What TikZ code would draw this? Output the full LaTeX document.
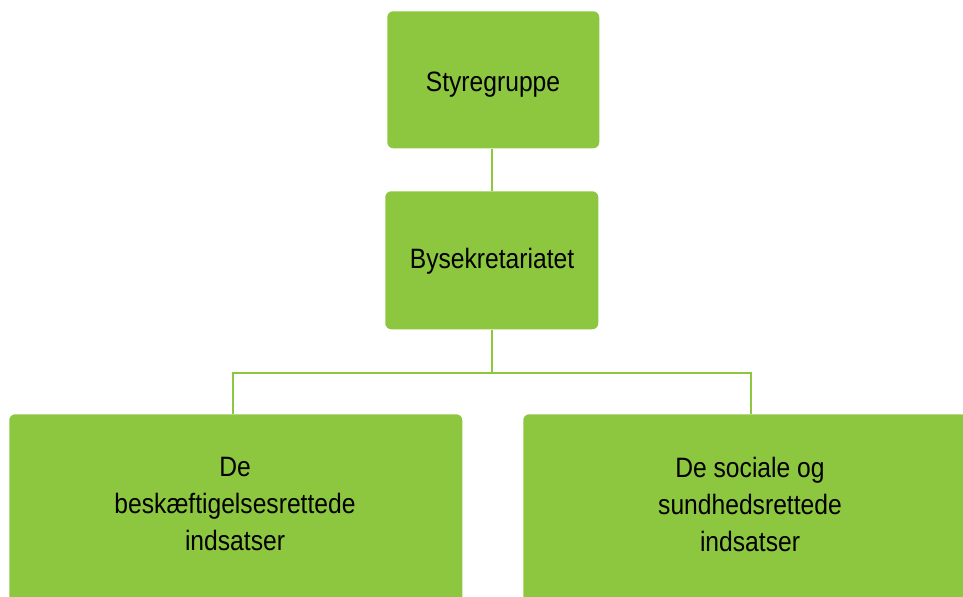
\documentclass[tikz,border=0pt]{standalone}
\usepackage{fontspec}
\setmainfont{Liberation Sans}[FakeStretch=0.88]
\definecolor{boxgreen}{HTML}{8DC63F}
\begin{document}
\begin{tikzpicture}[x=0.75pt,y=-0.75pt,
  box/.style={fill=boxgreen, draw=none, rounded corners=4.5pt, inner sep=0pt},
  txt/.style={align=center, font=\fontsize{21pt}{27.75pt}\selectfont, text=black, inner sep=0pt},
  conn/.style={draw=boxgreen, line width=1.6pt}]
\useasboundingbox (0,0) rectangle (963,596);
\clip (0,0) rectangle (963,596);
\node[box, anchor=north west, minimum width=159pt, minimum height=102.75pt] (s) at (387,11) {};
\node[txt] (st) at (493,85) {Styregruppe};
\node[box, anchor=north west, minimum width=159.75pt, minimum height=103.5pt] (b) at (385,191) {};
\node[txt] (bt) at (492,261) {Bysekretariatet};
\node[box, anchor=north west, minimum width=339.75pt, minimum height=150pt] (l) at (9,414) {};
\node[txt] (lt) at (235,504) {De\\beskæftigelsesrettede\\indsatser};
\node[box, anchor=north west, minimum width=345pt, minimum height=150pt] (r) at (523,414) {};
\node[txt] (rt) at (750,504) {De sociale og\\sundhedsrettede\\indsatser};
\coordinate (jl) at (233,373);
\coordinate (jr) at (751,373);
\draw[conn] (s.south -| 492,0) -- (b.north -| 492,0);
\draw[conn] (b.south -| 492,0) -- (492,373) coordinate (jc);
\draw[conn] (jl |- l.north) -- (jl) -- (jr) -- (jr |- r.north);
\end{tikzpicture}
\end{document}
